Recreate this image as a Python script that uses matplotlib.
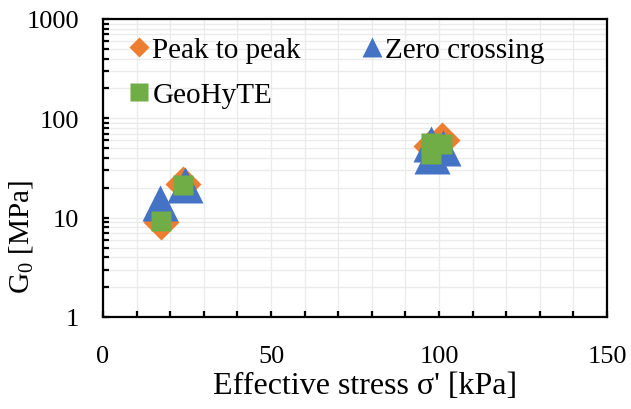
import matplotlib.pyplot as plt
from matplotlib.lines import Line2D
from matplotlib.ticker import MultipleLocator, LogLocator, FixedLocator, FixedFormatter, NullFormatter

# effective stress [kPa] and G0 [MPa] for each interpretation method
ptp_stress = [17.3, 23.8, 97.5, 101.0]
ptp_g0 = [9.0, 22.0, 53.0, 60.0]

zc_stress = [17.0, 24.4, 97.6, 101.2, 97.8]
zc_g0 = [13.9, 21.3, 54.6, 50.0, 42.0]

geo_stress = [17.3, 23.7, 97.5, 97.5, 101.0]
geo_g0 = [9.2, 21.1, 56.0, 44.0, 54.6]

y_ticks = [1, 10, 100, 1000]
y_labels = ['1', '10', '100', '1000']

orange = '#ED7D31'
blue = '#4472C4'
green = '#70AD47'

plt.rcParams['font.family'] = ['Liberation Serif', 'DejaVu Serif']
plt.rcParams['mathtext.fontset'] = 'custom'
plt.rcParams['mathtext.rm'] = 'Liberation Serif'
plt.rcParams['mathtext.it'] = 'Liberation Serif:italic'

fig = plt.figure(figsize=(6.31, 4.10), dpi=100)
ax = fig.add_axes([103 / 631, 1 - 318 / 410, 504 / 631, 298 / 410])

ax.plot(ptp_stress, ptp_g0, linestyle='none', marker='D', ms=18.5, color=orange, mec='none', zorder=3)
ax.plot(zc_stress, zc_g0, linestyle='none', marker='^', ms=26, color=blue, mec='none', zorder=4)
ax.plot(geo_stress, geo_g0, linestyle='none', marker='s', ms=14.5, color=green, mec='none', zorder=5)

ax.set_yscale('log')
ax.set_xlim(0, 150)
ax.set_ylim(1, 1000)
ax.xaxis.set_major_locator(MultipleLocator(50))
ax.xaxis.set_minor_locator(MultipleLocator(10))
ax.yaxis.set_major_locator(FixedLocator(y_ticks))
ax.yaxis.set_major_formatter(FixedFormatter(y_labels))
ax.yaxis.set_minor_locator(LogLocator(base=10, subs=range(2, 10)))
ax.yaxis.set_minor_formatter(NullFormatter())

ax.grid(which='both', color='#ebebeb', lw=1.0, zorder=0)
ax.set_axisbelow(True)
for s in ax.spines.values():
    s.set_linewidth(1.6)
ax.tick_params(which='both', direction='in', length=4.5, width=1.6, labelsize=19)
ax.tick_params(axis='y', pad=17)
ax.tick_params(axis='x', pad=20)

# axis titles placed in figure pixels
fig.text(365 / 631, 1 - 387 / 410, "Effective stress σ' [kPa]", fontsize=23,
         ha='center', va='center')
fig.text(21 / 631, 1 - 237 / 410, 'G$_0$ [MPa]', fontsize=21, rotation=90,
         ha='center', va='center')

handles = [
    Line2D([], [], linestyle='none', marker='D', ms=10.5, color=orange, mec='none'),
    Line2D([], [], linestyle='none', marker='s', ms=12.5, color=green, mec='none'),
    Line2D([], [], linestyle='none', marker='^', ms=14.5, color=blue, mec='none'),
]
labels = ['Peak to peak', 'GeoHyTE', 'Zero crossing']
fig.legend(handles, labels, ncol=2, loc='upper left',
           bbox_to_anchor=(113 / 631, 1 - 23 / 410), frameon=False,
           fontsize=21, borderpad=0, handlelength=0.8, handletextpad=0.05,
           columnspacing=2.04, labelspacing=0.65)

fig.savefig('out.png', dpi=100)
